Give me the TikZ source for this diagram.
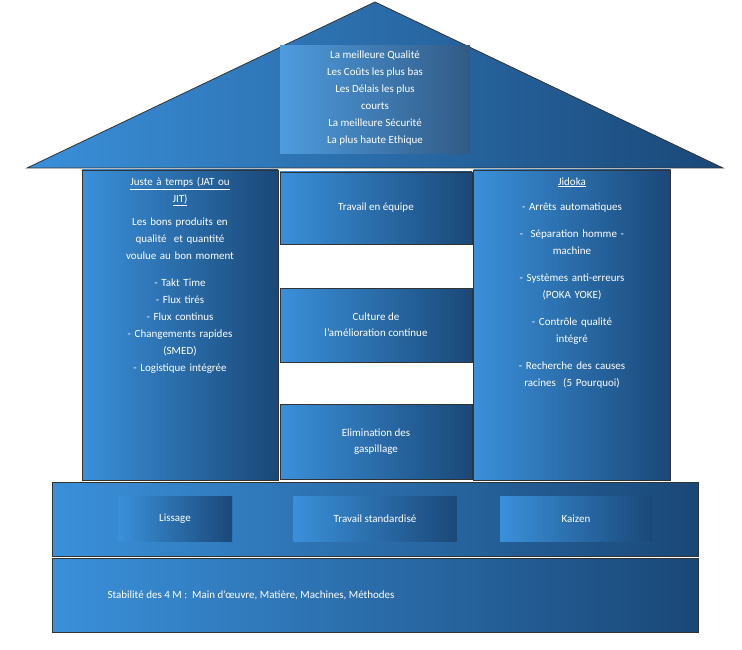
\documentclass[tikz,border=0pt]{standalone}
\usepackage{fontspec}
\setmainfont{Carlito}
\usetikzlibrary{positioning}
\definecolor{bluelight}{HTML}{3A90DA}
\definecolor{bluedark}{HTML}{1A4878}
\begin{document}
\begin{tikzpicture}[x=1pt,y=-1pt,
    block/.style={rectangle,draw=black!80,thick,left color=bluelight,right color=bluedark,text=white,font=\fontsize{11}{16}\selectfont,align=center,inner sep=2pt},
    label/.style={text=white,font=\fontsize{11}{17}\selectfont,align=center}
]
\useasboundingbox (0,0) rectangle (742,650);

% toit
\draw[thick,draw=black!80,left color=bluelight,right color=bluedark] (375,2) -- (723,168) -- (27,168) -- cycle;
\node[block,draw=none,left color=bluelight!90,right color=bluedark!90,minimum width=190pt,minimum height=108pt] (goals) at (375,100) {};
\node[label] (goalstext) at (375,98) {La meilleure Qualité\\Les Coûts les plus bas\\Les Délais les plus\\courts\\La meilleure Sécurité\\La plus haute Ethique};

% piliers
\node[block,minimum width=196pt,minimum height=310pt] (jat) at (180,325) {};
\node[label,anchor=north,text width=180pt] (jattext) at (180,174) {\underline{Juste à temps (JAT ou}\\\underline{JIT)}\\[6pt]Les bons produits en\\qualité\ \ et quantité\\voulue au bon moment\\[10pt]- Takt Time\\- Flux tirés\\- Flux continus\\- Changements rapides\\(SMED)\\- Logistique intégrée};
\node[block,minimum width=197pt,minimum height=310pt] (jidoka) at (572,325) {};
\node[label,anchor=north,text width=185pt] (jidokatext) at (572,174) {\underline{Jidoka}\\[8pt]- Arrêts automatiques\\[10pt]-\ \ Séparation homme -\\machine\\[10pt]- Systèmes anti-erreurs\\(POKA YOKE)\\[10pt]- Contrôle qualité\\intégré\\[10pt]- Recherche des causes\\racines\ \ (5 Pourquoi)};

% centre
\node[block,minimum width=192pt,minimum height=72pt] (equipe) at (376,208) {Travail en équipe};
\node[block,minimum width=192pt,minimum height=74pt] (amelioration) at (376,325) {Culture de\\l'amélioration continue};
\node[block,minimum width=192pt,minimum height=75pt] (gaspillage) at (376,442) {Elimination des\\gaspillage};

% fondations
\node[block,minimum width=646pt,minimum height=74pt] (base) at (375,519) {};
\node[block,draw=none,minimum width=114pt,minimum height=45pt] (lissage) at (175,519) {Lissage};
\node[block,draw=none,minimum width=163pt,minimum height=45pt] (standard) at (375,519) {Travail standardisé};
\node[block,draw=none,minimum width=152pt,minimum height=45pt] (kaizen) at (576,519) {Kaizen};
\node[block,minimum width=646pt,minimum height=74pt] (stabilite) at (375,595) {};
\node[label,anchor=west] (stabtext) at (104,595) {Stabilité des 4 M :\ \ Main d'œuvre, Matière, Machines, Méthodes};
\end{tikzpicture}
\end{document}
